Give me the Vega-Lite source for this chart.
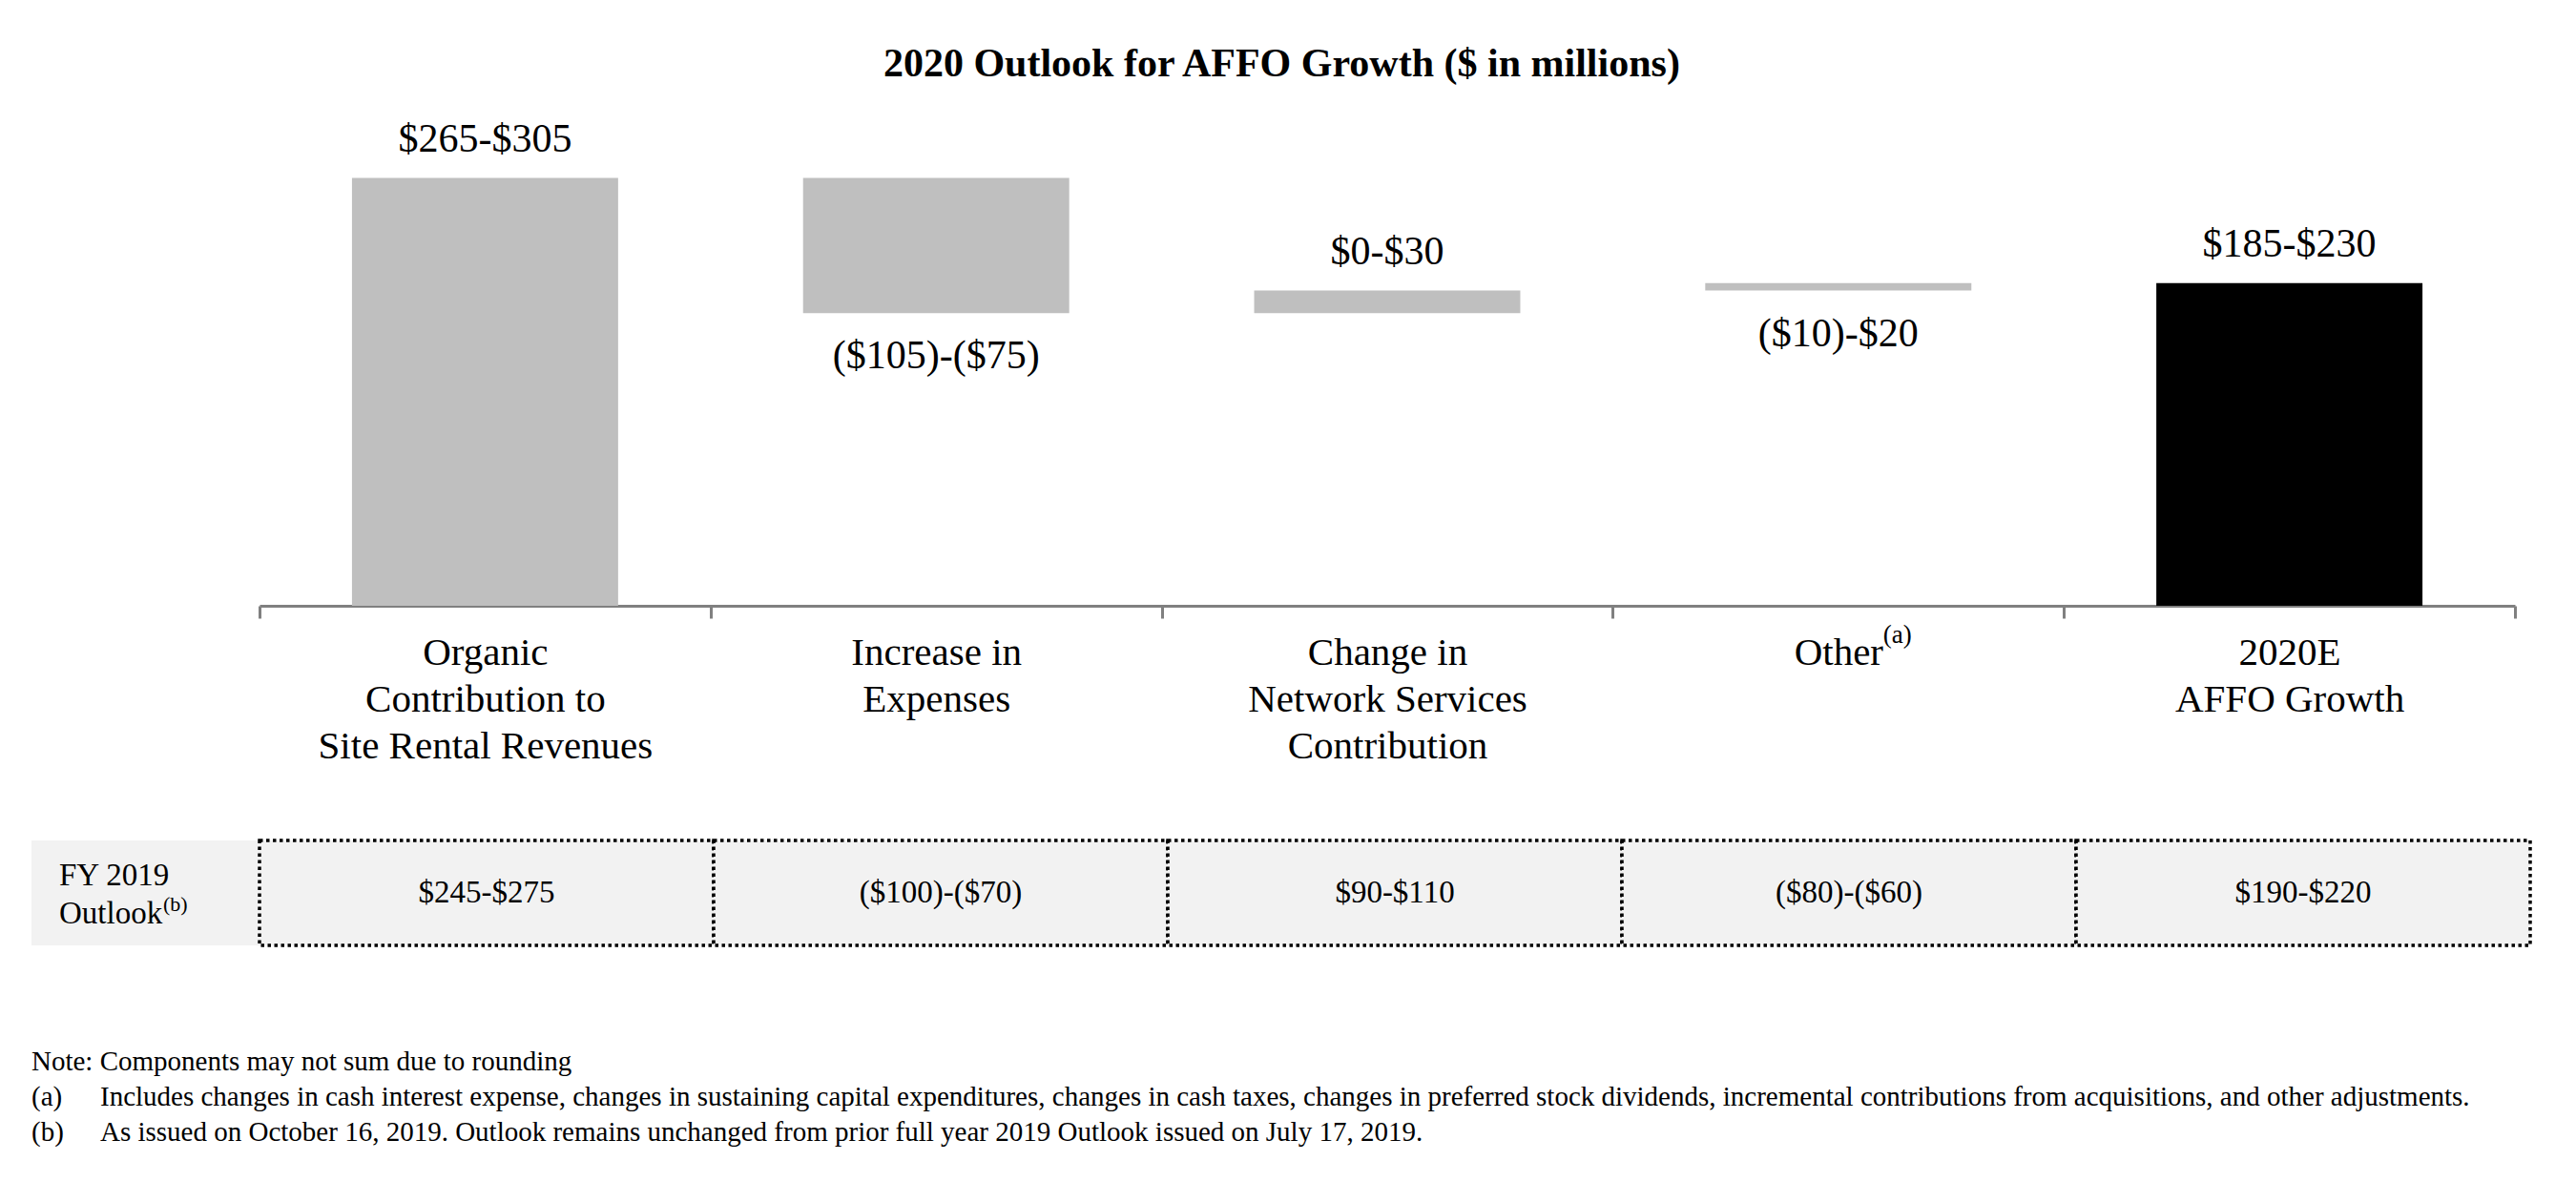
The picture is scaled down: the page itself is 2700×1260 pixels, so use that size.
{
  "$schema": "https://vega.github.io/schema/vega-lite/v6.json",
  "padding": {"left": 33, "top": 46, "right": 48, "bottom": 56},
  "background": "white",
  "title": {
    "text": "2020 Outlook for AFFO Growth ($ in millions)",
    "font": "Liberation Serif",
    "fontSize": 42,
    "fontWeight": "bold",
    "color": "#000000",
    "anchor": "middle",
    "offset": 22
  },
  "config": {
    "view": {"stroke": null},
    "font": "Liberation Serif",
    "text": {"font": "Liberation Serif", "color": "#000000"}
  },
  "datasets": {
    "main": [
      {"cat": "Organic|Contribution to|Site Rental Revenues", "hi": 285, "lo": 0, "kind": "change", "pos": "above", "range2020": "$265-$305", "fy2019": "$245-$275"},
      {"cat": "Increase in|Expenses", "hi": 285, "lo": 195, "kind": "change", "pos": "below", "range2020": "($105)-($75)", "fy2019": "($100)-($70)"},
      {"cat": "Change in|Network Services|Contribution", "hi": 210, "lo": 195, "kind": "change", "pos": "above", "range2020": "$0-$30", "fy2019": "$90-$110"},
      {"cat": "Other", "sup": "(a)", "hi": 215, "lo": 210, "kind": "change", "pos": "below", "range2020": "($10)-$20", "fy2019": "($80)-($60)"},
      {"cat": "2020E|AFFO Growth", "hi": 215, "lo": 0, "kind": "total", "pos": "above", "range2020": "$185-$230", "fy2019": "$190-$220"}
    ],
    "notes": [
      {"line": 1, "col": "marker", "text": "Note: Components may not sum due to rounding"},
      {"line": 2, "col": "marker", "text": "(a)"},
      {"line": 2, "col": "body", "text": "Includes changes in cash interest expense, changes in sustaining capital expenditures, changes in cash taxes, changes in preferred stock dividends, incremental contributions from acquisitions, and other adjustments."},
      {"line": 3, "col": "marker", "text": "(b)"},
      {"line": 3, "col": "body", "text": "As issued on October 16, 2019. Outlook remains unchanged from prior full year 2019 Outlook issued on July 17, 2019."}
    ]
  },
  "bounds": "flush",
  "spacing": 246,
  "vconcat": [
    {
      "width": 2603,
      "height": 524,
      "data": {"name": "main"},
      "encoding": {
        "x": {
          "field": "cat",
          "type": "nominal",
          "sort": null,
          "scale": {"type": "band", "range": [239, 2603], "paddingInner": 0, "paddingOuter": 0},
          "axis": {
            "title": null,
            "labelExpr": "isValid(datum.value) ? split(datum.value, '|') : ''",
            "labelFont": "Liberation Serif",
            "labelFontSize": 41,
            "labelColor": "#000000",
            "labelPadding": 16,
            "labelLineHeight": 49,
            "labelLimit": 0,
            "labelAngle": 0,
            "labelOverlap": false,
            "labelBaseline": "top",
            "domainColor": "#808080",
            "domainWidth": 3,
            "tickColor": "#808080",
            "tickWidth": 3,
            "tickSize": 13,
            "tickBand": "extent",
            "grid": false
          }
        }
      },
      "layer": [
        {
          "mark": {"type": "bar", "width": {"band": 0.59}},
          "encoding": {
            "y": {"field": "hi", "type": "quantitative", "scale": {"domain": [0, 333], "nice": false}, "axis": null},
            "y2": {"field": "lo"},
            "color": {"field": "kind", "type": "nominal", "scale": {"domain": ["change", "total"], "range": ["#bfbfbf", "#000000"]}, "legend": null}
          }
        },
        {
          "transform": [{"filter": "datum.pos === 'above'"}],
          "mark": {"type": "text", "baseline": "alphabetic", "dy": -28, "fontSize": 42, "font": "Liberation Serif", "color": "#000000"},
          "encoding": {
            "y": {"field": "hi", "type": "quantitative"},
            "text": {"field": "range2020"}
          }
        },
        {
          "transform": [{"filter": "datum.pos === 'below'"}],
          "mark": {"type": "text", "baseline": "alphabetic", "dy": 58, "fontSize": 42, "font": "Liberation Serif", "color": "#000000"},
          "encoding": {
            "y": {"field": "lo", "type": "quantitative"},
            "text": {"field": "range2020"}
          }
        },
        {
          "transform": [{"filter": "isValid(datum.sup)"}],
          "mark": {"type": "text", "align": "left", "baseline": "alphabetic", "dx": 47, "dy": 39, "fontSize": 27, "font": "Liberation Serif", "color": "#000000"},
          "encoding": {
            "y": {"datum": 0, "type": "quantitative"},
            "text": {"field": "sup"}
          }
        }
      ]
    },
    {
      "bounds": "flush",
      "spacing": 104,
      "vconcat": [
        {
          "width": 2619,
          "height": 110,
          "layer": [
            {
              "data": {"values": [{"rowlabel": "FY 2019\nOutlook", "sup": "(b)"}]},
              "encoding": {
                "x": {"field": "rowlabel", "type": "nominal", "scale": {"type": "band", "range": [0, 239], "paddingInner": 0, "paddingOuter": 0}, "axis": null}
              },
              "layer": [
                {"mark": {"type": "rect", "fill": "#f2f2f2"}},
                {
                  "mark": {"type": "text", "align": "left", "baseline": "middle", "dx": 29, "dy": -18, "fontSize": 33, "lineHeight": 40, "lineBreak": "\n", "font": "Liberation Serif", "color": "#000000"},
                  "encoding": {
                    "x": {"field": "rowlabel", "type": "nominal", "bandPosition": 0},
                    "text": {"field": "rowlabel"}
                  }
                },
                {
                  "mark": {"type": "text", "align": "left", "baseline": "alphabetic", "dx": 138, "dy": 19, "fontSize": 22, "font": "Liberation Serif", "color": "#000000"},
                  "encoding": {
                    "x": {"field": "rowlabel", "type": "nominal", "bandPosition": 0},
                    "text": {"field": "sup"}
                  }
                }
              ]
            },
            {
              "data": {"name": "main"},
              "encoding": {
                "x": {"field": "cat", "type": "nominal", "sort": null, "scale": {"type": "band", "range": [239, 2619], "paddingInner": 0, "paddingOuter": 0}, "axis": null}
              },
              "layer": [
                {"mark": {"type": "rect", "fill": "#f2f2f2", "stroke": "#000000", "strokeWidth": 3.5, "strokeDash": [3.5, 3.5]}},
                {
                  "mark": {"type": "text", "baseline": "middle", "dy": 0, "fontSize": 33, "font": "Liberation Serif", "color": "#000000"},
                  "encoding": {"text": {"field": "fy2019"}}
                }
              ]
            }
          ],
          "resolve": {"scale": {"x": "independent"}}
        },
        {
          "width": 2619,
          "height": 110,
          "data": {"name": "notes"},
          "mark": {"type": "text", "align": "left", "baseline": "middle", "fontSize": 29, "font": "Liberation Serif", "color": "#000000"},
          "encoding": {
            "x": {"field": "col", "type": "nominal", "bandPosition": 0, "scale": {"type": "band", "domain": ["marker", "body"], "range": [0, 144], "paddingInner": 0, "paddingOuter": 0}, "axis": null},
            "y": {"field": "line", "type": "ordinal", "scale": {"type": "band", "paddingInner": 0, "paddingOuter": 0}, "axis": null},
            "text": {"field": "text"}
          }
        }
      ]
    }
  ]
}
